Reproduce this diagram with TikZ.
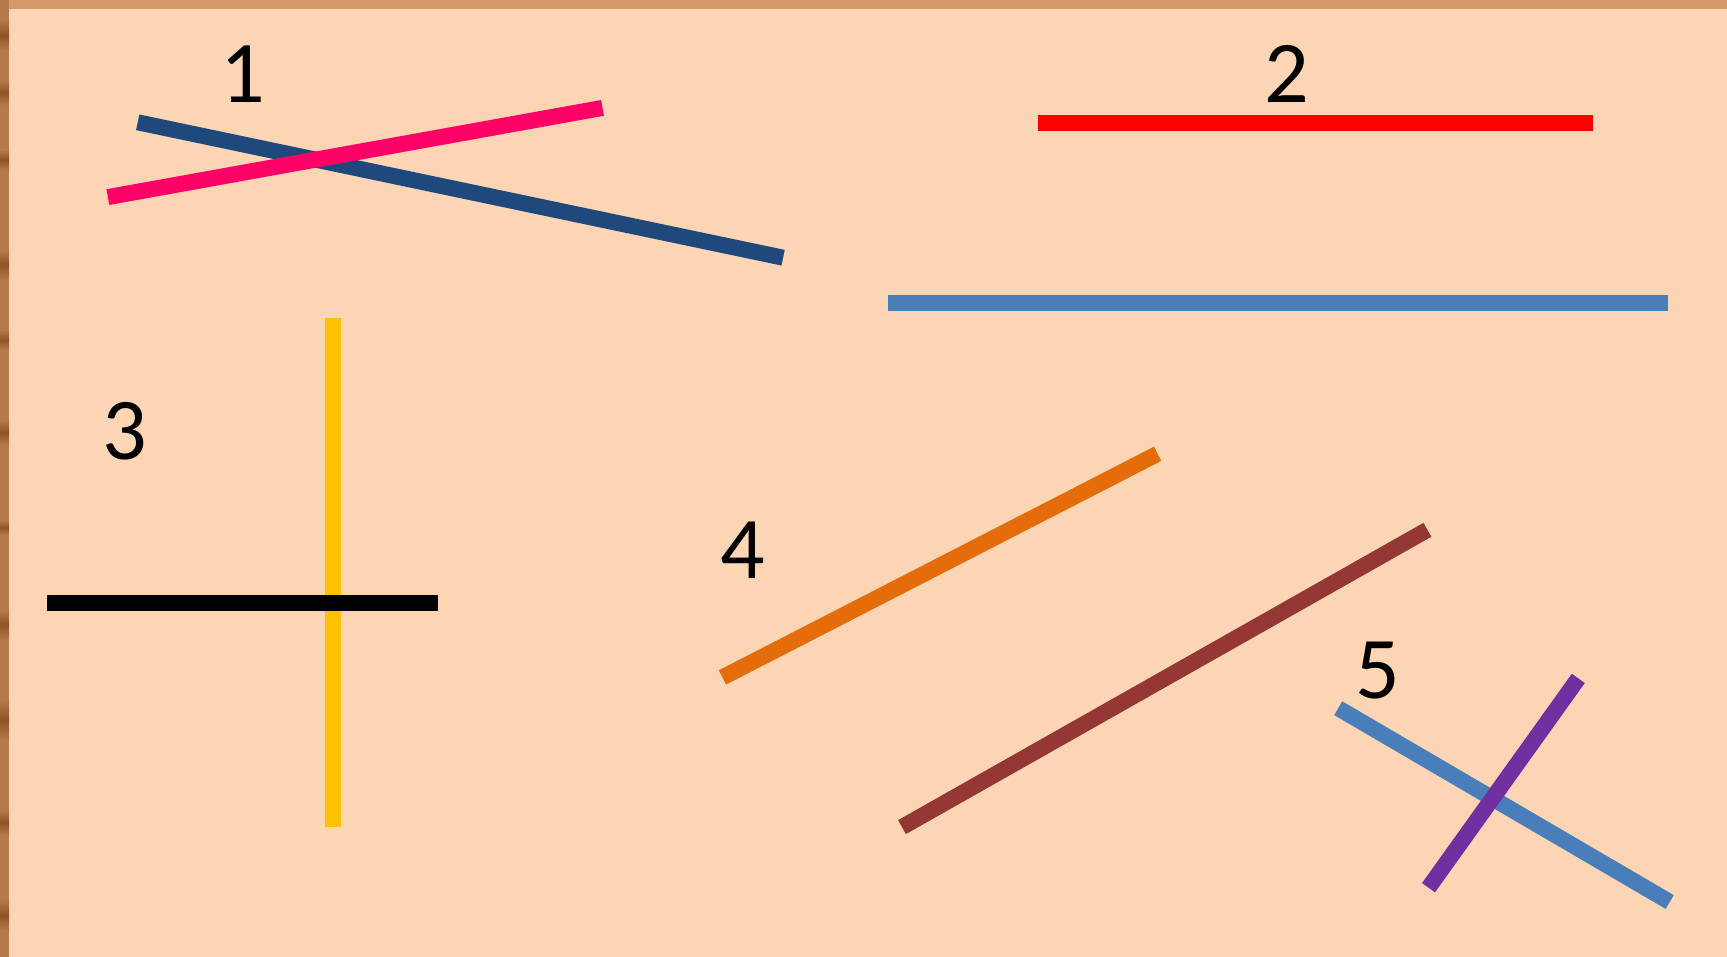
\documentclass[tikz,border=0pt]{standalone}
\usepackage{fontspec}
\setmainfont{Carlito}
\begin{document}
\begin{tikzpicture}[x=0.5pt,y=-0.5pt,
  seg/.style={line width=8pt,line cap=butt},
  lbl/.style={font=\fontsize{44}{50}\selectfont,inner sep=0pt}]
\definecolor{bg}{HTML}{FCD5B5}
\definecolor{woodA}{HTML}{D49A6A}
\definecolor{woodB}{HTML}{B57A4A}
\definecolor{woodC}{HTML}{8E5428}
\definecolor{dkblue}{HTML}{1F497D}
\definecolor{pinkc}{HTML}{FF0066}
\definecolor{stblue}{HTML}{4A7EBB}
\definecolor{yel}{HTML}{FFC000}
\definecolor{orng}{HTML}{E46C0A}
\definecolor{brwn}{HTML}{953735}
\definecolor{purp}{HTML}{7030A0}
\useasboundingbox (0,0) rectangle (1727,957);
\fill[bg] (0,0) rectangle (1727,957);
% wood frame
\fill[woodA] (0,0) rectangle (1727,9);
\fill[woodB] (0,0) rectangle (9,957);
\foreach \y/\h in {20/30,80/25,150/20,250/30,330/20,420/25,520/15,610/30,700/40,810/25,900/30}{
  \shade[top color=woodB,bottom color=woodB,middle color=woodC] (0,\y) rectangle (9,\y+\h);
}
% group 1
\coordinate (a1) at (137.7,122.3); \coordinate (a2) at (783.1,257.7);
\coordinate (b1) at (107.9,197.1); \coordinate (b2) at (602.5,107.9);
\draw[seg,dkblue] (a1) -- (a2);
\draw[seg,pinkc] (b1) -- (b2);
\node[lbl] (l1) at (242.3,73.8) {1};
% group 2
\coordinate (c1) at (1038,123); \coordinate (c2) at (1592.6,123);
\coordinate (d1) at (887.7,302.9); \coordinate (d2) at (1667.5,302.9);
\draw[seg,red] (c1) -- (c2);
\draw[seg,stblue] (d1) -- (d2);
\node[lbl] (l2) at (1286.4,73.8) {2};
% group 3
\coordinate (e1) at (333,318.3); \coordinate (e2) at (333,827.1);
\coordinate (f1) at (47.4,603); \coordinate (f2) at (438.4,603);
\draw[seg,yel] (e1) -- (e2);
\draw[seg,black] (f1) -- (f2);
\node[lbl] (l3) at (124.5,431.7) {3};
% group 4
\coordinate (g1) at (722.5,677.4); \coordinate (g2) at (1157.6,453.8);
\coordinate (h1) at (902.0,827.1); \coordinate (h2) at (1427.4,529.8);
\draw[seg,orng] (g1) -- (g2);
\draw[seg,brwn] (h1) -- (h2);
\node[lbl] (l4) at (742.3,550.7) {4};
% group 5
\coordinate (i1) at (1338.2,708.2); \coordinate (i2) at (1669.7,902.0);
\coordinate (j1) at (1428.5,887.7); \coordinate (j2) at (1578.3,678.4);
\draw[seg,stblue] (i1) -- (i2);
\draw[seg,purp] (j1) -- (j2);
\node[lbl] (l5) at (1377.8,670.8) {5};
\end{tikzpicture}
\end{document}
